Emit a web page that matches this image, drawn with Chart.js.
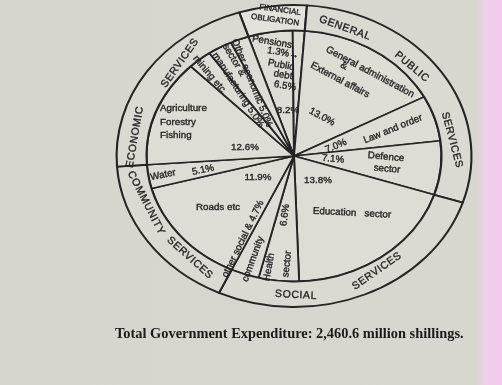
<!DOCTYPE html>
<html>
<head>
<meta charset="utf-8">
<script src="https://cdn.jsdelivr.net/npm/chart.js@4.4.1/dist/chart.umd.min.js"></script>
<style>
  html, body { margin: 0; padding: 0; }
  body {
    width: 502px; height: 385px; overflow: hidden; position: relative;
    background: linear-gradient(to right, #d7d6ce 0, #d8d7cf 476px, #efd0e8 485px, #f6c9f0 502px);
  }
  #wrap { position: absolute; left: 0; top: 0; width: 502px; height: 385px; }
  #caption {
    position: absolute; left: 115px; top: 325px;
    font-family: "Liberation Serif", serif; font-weight: bold; font-size: 14.4px;
    color: #1a1a1a; white-space: nowrap;
  }
</style>
</head>
<body>
<div id="wrap"><canvas id="chart1" width="502" height="385"></canvas></div>
<div id="caption">Total Government Expenditure: 2,460.6 million shillings.</div>
<script>
// outer ring: groups, in degrees as drawn (clockwise from 342°)
const groups = ["FINANCIAL OBLIGATION", "GENERAL PUBLIC SERVICES", "SOCIAL SERVICES", "COMMUNITY SERVICES", "ECONOMIC SERVICES"];
const groupDegrees = [22.2, 103.8, 97, 61, 76];

// inner pie: items and the angle each one is drawn with
const items = ["Public debt", "Pensions", "General administration & External affairs", "Law and order",
  "Defence sector", "Education sector", "Health sector", "Other social & community", "Roads etc",
  "Water", "Agriculture Forestry Fishing", "Manufacturing, mining etc", "Other economic sector &", "Other economic"];
const itemDegrees = [17.5, 4.7, 57.7, 21.1, 25, 70, 15.9, 11.1, 50, 11, 49.6, 9.4, 9.7, 7.3];
const itemShares = ["6.5%", "1.3%", "13.0%", "7.0%", "7.1%", "13.8%", "6.6%", "4.7%", "11.9%", "5.1%", "12.6%", "5.0%", "", "5.0%"];

const startAngle = -18;
const stretchX = 1.175; // the scan is wider than tall

const ink = "#242424";
const paper = "#dad9d2";

// text placed around the centre: dx, dy from the centre, rotation in degrees
const ringText = [
  { t: "GENERAL", dx: 51, dy: -128, r: 20 },
  { t: "PUBLIC", dx: 118, dy: -89, r: 40 },
  { t: "SERVICES", dx: 158, dy: -16, r: 75 },
  { t: "SOCIAL", dx: 2, dy: 139, r: 3 },
  { t: "SERVICES", dx: 83, dy: 115, r: -35 },
  { t: "COMMUNITY", dx: -148, dy: 47, r: 63 },
  { t: "SERVICES", dx: -104, dy: 102, r: 42 },
  { t: "ECONOMIC", dx: -159, dy: -19, r: -80 },
  { t: "SERVICES", dx: -114, dy: -93, r: -55 },
];
const smallCaps = [
  { t: "FINANCIAL", dx: -14, dy: -146, r: 8 },
  { t: "OBLIGATION", dx: -19, dy: -136, r: 8 },
];
const pieText = [
  { t: "General administration", dx: 76, dy: -84, r: 28 },
  { t: "&", dx: 50, dy: -90, r: 28 },
  { t: "External affairs", dx: 46, dy: -76, r: 28 },
  { t: itemShares[2], dx: 28, dy: -39, r: 28 },
  { t: "Law and order", dx: 99, dy: -27, r: -22 },
  { t: itemShares[3], dx: 42, dy: -10, r: -22 },
  { t: itemShares[4], dx: 39, dy: 3, r: 5 },
  { t: "Defence", dx: 92, dy: 1, r: 5 },
  { t: "sector", dx: 93, dy: 13, r: 5 },
  { t: itemShares[5], dx: 24, dy: 24, r: 0 },
  { t: "Education   sector", dx: 58, dy: 57, r: 3 },
  { t: itemShares[8], dx: -36, dy: 21, r: 0 },
  { t: "Roads etc", dx: -76, dy: 51, r: 0 },
  { t: "Water", dx: -131, dy: 19, r: -12 },
  { t: itemShares[9], dx: -91, dy: 14, r: -12 },
  { t: "Agriculture", dx: -134, dy: -48, r: 0, a: "left" },
  { t: "Forestry", dx: -134, dy: -34, r: 0, a: "left" },
  { t: "Fishing", dx: -134, dy: -21, r: 0, a: "left" },
  { t: itemShares[10], dx: -49, dy: -9, r: 0 },
  { t: itemShares[6], dx: -9, dy: 59, r: -82 },
  { t: "Health", dx: -25, dy: 111, r: -80 },
  { t: "sector", dx: -7, dy: 108, r: -84 },
  { t: "other social & " + itemShares[7], dx: -51, dy: 83, r: -64 },
  { t: "community", dx: -41, dy: 103, r: -70 },
  { t: "Pensions", dx: -22, dy: -114, r: 10 },
  { t: itemShares[1] + "\u2192", dx: -11, dy: -103, r: 10 },
  { t: "Public", dx: -13, dy: -91, r: 10 },
  { t: "debt", dx: -11, dy: -81, r: 10 },
  { t: itemShares[0], dx: -9, dy: -70, r: 10 },
  { t: "8.2%", dx: -6, dy: -46, r: 0 },
  { t: "Other economic " + itemShares[13], dx: -42, dy: -73, r: 68 },
  { t: "sector &", dx: -60, dy: -96, r: 59 },
  { t: "manufacturing " + itemShares[11], dx: -56, dy: -66, r: 57 },
  { t: "mining etc.", dx: -84, dy: -81, r: 50 },
];

// squash the arcs into the ellipse seen in the scan
const squash = {
  id: "squash",
  beforeDatasetsDraw(chart) {
    const arc = chart.getDatasetMeta(0).data[0];
    const ctx = chart.ctx;
    ctx.save();
    ctx.translate(arc.x, arc.y);
    ctx.scale(stretchX, 1);
    ctx.translate(-arc.x, -arc.y);
  },
  afterDatasetsDraw(chart) {
    chart.ctx.restore();
  },
};

const writing = {
  id: "writing",
  afterDraw(chart) {
    const arc = chart.getDatasetMeta(0).data[0];
    const ctx = chart.ctx;
    const put = (list, font, spacing) => {
      list.forEach((l) => {
        ctx.save();
        ctx.translate(arc.x + l.dx, arc.y + l.dy);
        ctx.rotate((l.r * Math.PI) / 180);
        ctx.font = font;
        ctx.letterSpacing = spacing;
        ctx.fillStyle = ink;
        ctx.strokeStyle = ink;
        ctx.lineWidth = 0.35;
        ctx.textAlign = l.a || "center";
        ctx.textBaseline = "middle";
        ctx.fillText(l.t, 0, 0);
        ctx.strokeText(l.t, 0, 0);
        ctx.restore();
      });
    };
    put(ringText, "10.5px 'Liberation Sans', Arial, sans-serif", "0.6px");
    put(smallCaps, "8px 'Liberation Sans', Arial, sans-serif", "0px");
    put(pieText, "9.8px 'Liberation Sans', Arial, sans-serif", "0px");
  },
};

new Chart(document.getElementById("chart1"), {
  type: "doughnut",
  data: {
    labels: items,
    datasets: [
      {
        label: "groups",
        data: groupDegrees,
        backgroundColor: ["#e3e2dc", paper, paper, paper, paper],
        borderColor: ink,
        borderWidth: 1.8,
        weight: 1,
        clip: false,
      },
      {
        label: "items",
        data: itemDegrees,
        backgroundColor: "#dddcd5",
        borderColor: ink,
        borderWidth: 1.6,
        weight: 4.92,
        clip: false,
      },
    ],
  },
  options: {
    responsive: false,
    animation: false,
    events: [],
    rotation: startAngle,
    cutout: 0,
    radius: 151,
    layout: { padding: { left: 130, right: 44, top: 0, bottom: 73 } },
    plugins: {
      legend: { display: false },
      tooltip: { enabled: false },
    },
  },
  plugins: [squash, writing],
});
</script>
</body>
</html>
